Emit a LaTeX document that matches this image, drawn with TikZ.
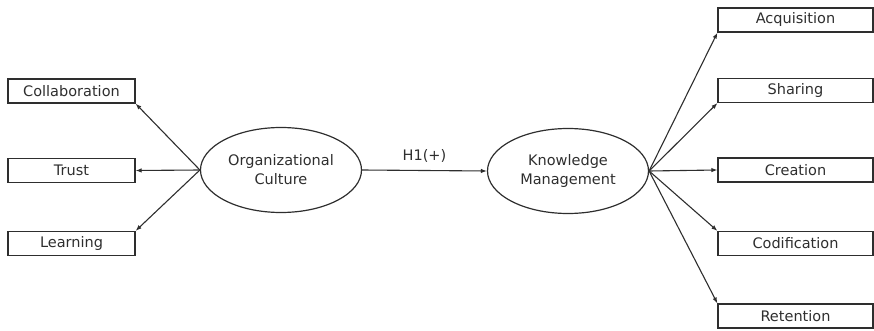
\documentclass[tikz,border=0pt]{standalone}
\usepackage{fontspec}
\setmainfont{DejaVu Sans}
\usepackage{tikz}
\usetikzlibrary{shapes.geometric, arrows.meta, positioning}
\usepackage{xcolor}
\definecolor{inkgray}{HTML}{2E2E2E}

\begin{document}
\begin{tikzpicture}[
    x=1pt, y=-1pt,
    every node/.style={font=\fontsize{14.5}{19}\selectfont, text=inkgray},
    construct/.style={draw=inkgray, ellipse, line width=1.2pt, minimum width=161pt, minimum height=85pt, align=center, inner sep=0pt},
    item/.style={draw=inkgray, rectangle, line width=1.2pt, minimum height=24pt, inner sep=0pt},
    arrow/.style={-{Latex[length=6pt, width=4.5pt]}, line width=1.1pt, draw=inkgray}
]
    \useasboundingbox (0,0) rectangle (874,331);

    % latent constructs
    \node[construct] (culture) at (281,170) {Organizational\\Culture};
    \node[construct] (knowledge) at (568,171) {Knowledge\\Management};

    % culture indicators
    \node[item, minimum width=127pt] (collab) at (71.5,91) {Collaboration};
    \node[item, minimum width=127pt] (trust) at (71.5,170.5) {Trust};
    \node[item, minimum width=127pt] (learn) at (71.5,243.5) {Learning};

    % knowledge management indicators
    \node[item, minimum width=155pt] (acq) at (795.5,20) {Acquisition};
    \node[item, minimum width=155pt] (share) at (795.5,90.5) {Sharing};
    \node[item, minimum width=155pt] (create) at (795.5,170) {Creation};
    \node[item, minimum width=155pt] (codify) at (795.5,243.5) {Codification};
    \node[item, minimum width=155pt] (retain) at (795.5,316) {Retention};

    \draw[arrow] (culture.west) -- (collab.south east);
    \draw[arrow] (culture.west) -- (trust.east);
    \draw[arrow] (culture.west) -- (learn.north east);

    \draw[arrow] (culture.east) -- node[above=4pt] {H1(+)} (knowledge.west);

    \draw[arrow] (knowledge.east) -- (acq.south west);
    \draw[arrow] (knowledge.east) -- (share.south west);
    \draw[arrow] (knowledge.east) -- (create.west);
    \draw[arrow] (knowledge.east) -- (codify.north west);
    \draw[arrow] (knowledge.east) -- (retain.north west);
\end{tikzpicture}
\end{document}
